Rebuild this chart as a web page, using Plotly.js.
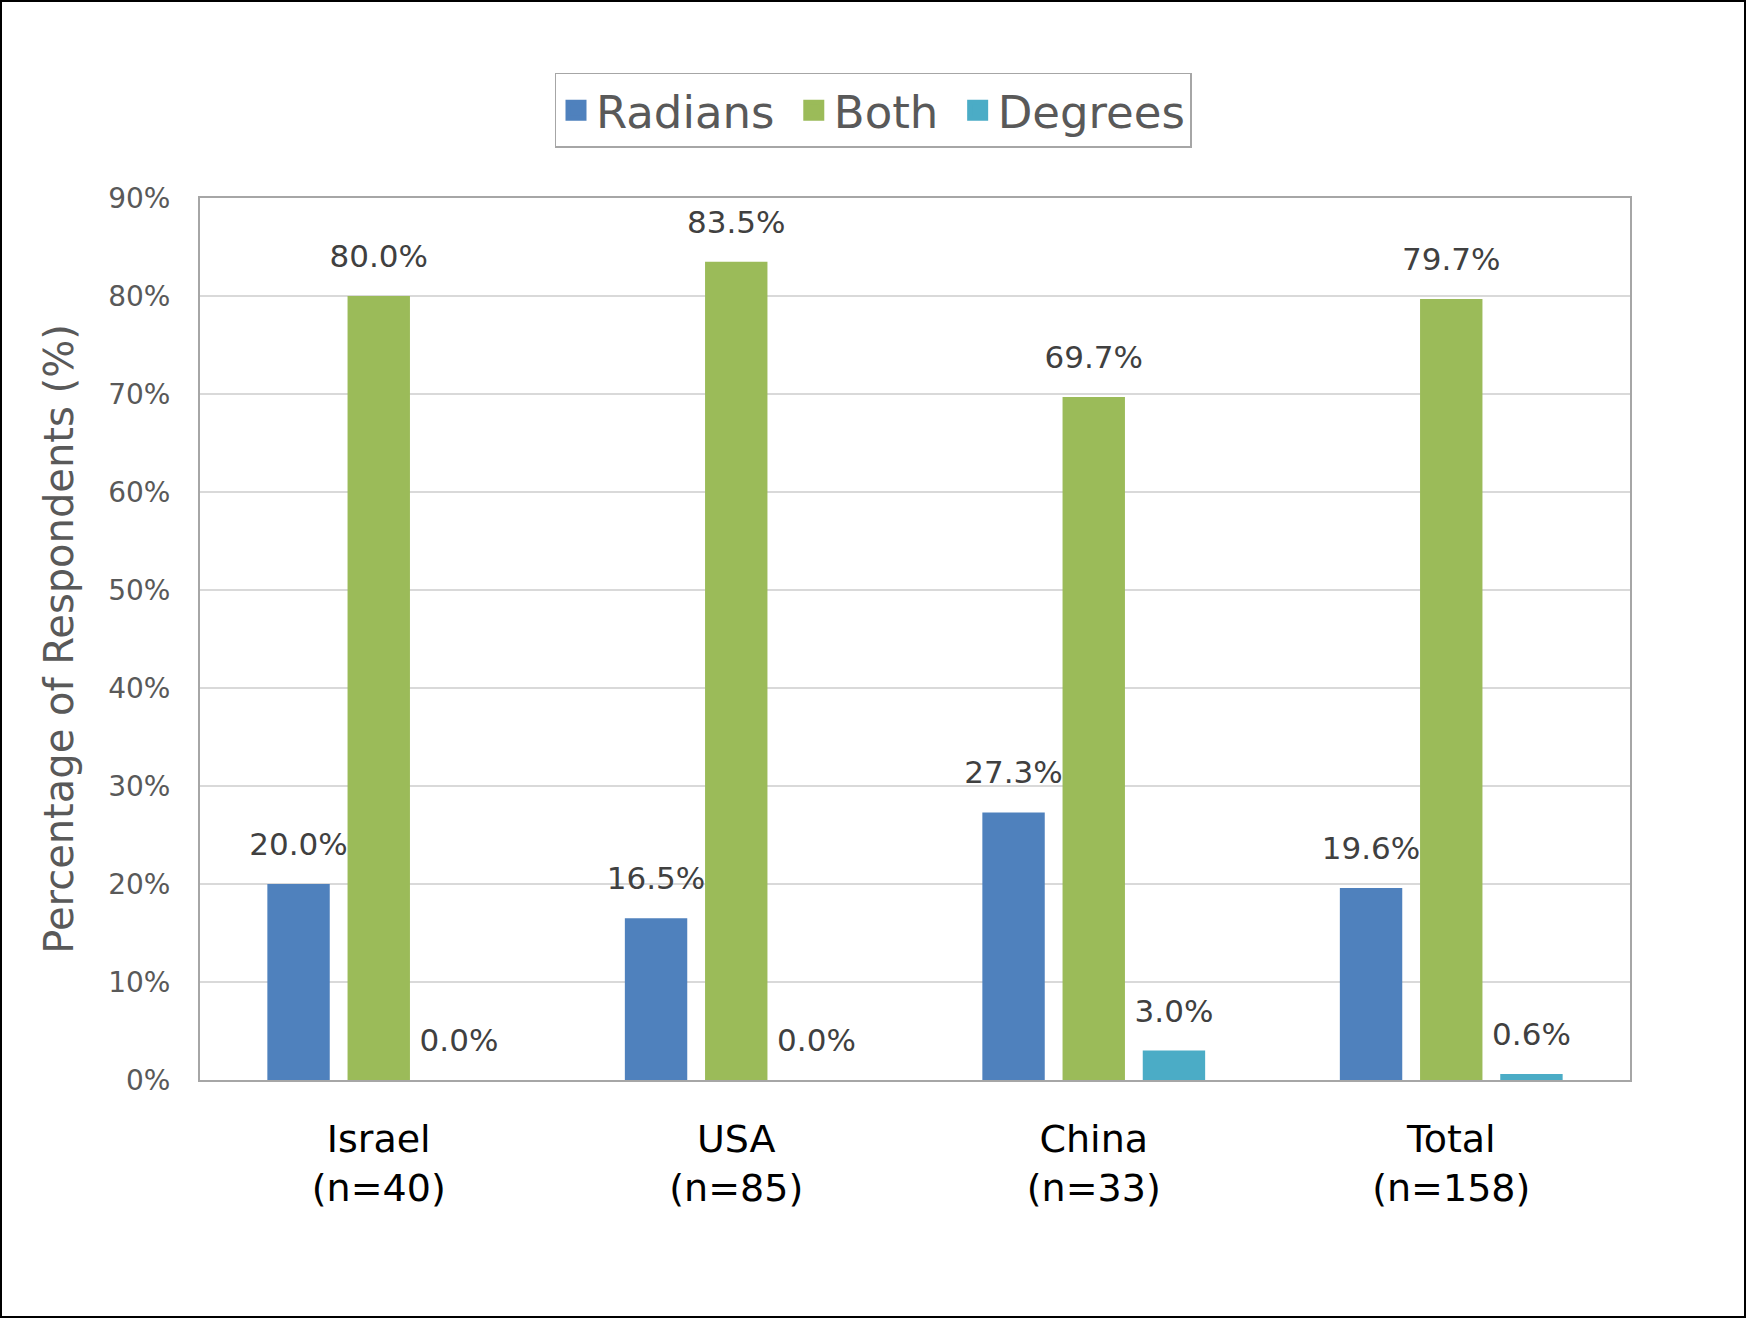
<!DOCTYPE html>
<html>
<head>
<meta charset="utf-8">
<script src="https://cdn.plot.ly/plotly-3.0.1.min.js"></script>
<style>
  html, body { margin: 0; padding: 0; background: #fff; }
  #chart { width: 1746px; height: 1318px; box-sizing: border-box; border: 2px solid #000; }
</style>
</head>
<body>
<div id="chart"></div>
<script>
// categories and series
const categories = ['Israel<br>(n=40)', 'USA<br>(n=85)', 'China<br>(n=33)', 'Total<br>(n=158)'];
const seriesNames = ['Radians', 'Both', 'Degrees'];
const radians = [20.0, 16.5, 27.3, 19.6];
const both = [80.0, 83.5, 69.7, 79.7];
const degrees = [0.0, 0.0, 3.0, 0.6];
const colors = ['#4F81BD', '#9BBB59', '#4BACC6'];

const FONT = '"DejaVu Sans", sans-serif';

// label + a small blank second line, lifts the value a bit above the bar like Excel does
function labelText(v){
  return '<span style="font-size:31px">' + v.toFixed(1) + '%</span><br><span style="font-size:17px">&nbsp;</span>';
}

function barTrace(name, values, color){
  return {
    type: 'bar', name, x: categories, y: values,
    marker: {color},
    text: values.map(labelText),
    textposition: 'outside',
    constraintext: 'none',
    textfont: {family: FONT, size: 17, color: '#404040'},
    cliponaxis: false,
    showlegend: false,
    hovertemplate: name + ': %{y:.1f}%<extra></extra>'
  };
}

// legend-only entries so the legend squares can be drawn larger
function legendTrace(name, color, last){
  return {
    type: 'scatter', mode: 'markers', name: last ? name : name + '&nbsp;', x: [null], y: [null],
    marker: {symbol: 'square', size: 16, color, line: {color, width: 5}},
    hoverinfo: 'skip'
  };
}

const traces = [
  barTrace(seriesNames[0], radians, colors[0]),
  barTrace(seriesNames[1], both, colors[1]),
  barTrace(seriesNames[2], degrees, colors[2]),
  legendTrace(seriesNames[0], colors[0], false),
  legendTrace(seriesNames[1], colors[1], false),
  legendTrace(seriesNames[2], colors[2], true)
];

const layout = {
  width: 1742, height: 1314,
  margin: {l: 198, r: 114, t: 196, b: 236},
  paper_bgcolor: '#fff',
  plot_bgcolor: '#fff',
  font: {family: FONT, color: '#595959'},
  barmode: 'group',
  bargap: 0.327,
  bargroupgap: 0.222,
  showlegend: true,
  legend: {
    orientation: 'h',
    xref: 'container', yref: 'container',
    x: 0.5, xanchor: 'center', y: 0.946, yanchor: 'top',
    bordercolor: '#A6A6A6', borderwidth: 1.5,
    font: {family: FONT, size: 45, color: '#595959'},
    itemsizing: 'trace', itemwidth: 30
  },
  xaxis: {
    type: 'category',
    tickfont: {family: FONT, size: 38, color: '#000'},
    showline: true, linecolor: '#A6A6A6', linewidth: 2, mirror: true,
    ticks: '', ticklabelstandoff: 24
  },
  yaxis: {
    range: [0, 90], dtick: 10, ticksuffix: '%',
    tickfont: {family: FONT, size: 28, color: '#595959'},
    showgrid: true, gridcolor: '#D9D9D9', gridwidth: 2,
    showline: true, linecolor: '#A6A6A6', linewidth: 2, mirror: true,
    zeroline: false, ticks: '', ticklabelstandoff: 22,
    title: {text: 'Percentage of Respondents (%)', font: {family: FONT, size: 40, color: '#595959'}, standoff: 22}
  }
};

Plotly.newPlot('chart', traces, layout, {displayModeBar: false});
</script>
</body>
</html>
